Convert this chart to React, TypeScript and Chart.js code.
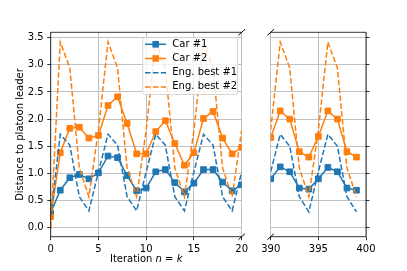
import React, { useEffect, useRef } from 'react';
import { Chart, registerables } from 'chart.js';

Chart.register(...registerables);

// ---------- data ----------
const leftIter = [0, 1, 2, 3, 4, 5, 6, 7, 8, 9, 10, 11, 12, 13, 14, 15, 16, 17, 18, 19, 20];
const rightIter = [390, 391, 392, 393, 394, 395, 396, 397, 398, 399];

const car1Left = [0.27, 0.69, 0.92, 0.98, 0.9, 1.01, 1.32, 1.29, 0.96, 0.68, 0.73, 1.03, 1.07, 0.83, 0.66, 0.82, 1.07, 1.07, 0.84, 0.68, 0.79];
const car2Left = [0.2, 1.38, 1.83, 1.85, 1.65, 1.7, 2.25, 2.41, 1.92, 1.36, 1.36, 1.77, 1.97, 1.55, 1.15, 1.38, 2.01, 2.14, 1.65, 1.36, 1.48];
const eng1Left = [0.2, 1.72, 1.52, 0.57, 0.31, 1.03, 1.72, 1.52, 0.57, 0.31, 1.03, 1.72, 1.52, 0.57, 0.31, 1.03, 1.72, 1.52, 0.57, 0.31, 1.03];
const eng2Left = [0.0, 3.42, 2.94, 1.1, 0.57, 1.8, 3.42, 2.94, 1.1, 0.57, 1.8, 3.42, 2.94, 1.1, 0.57, 1.8, 3.42, 2.94, 1.1, 0.57, 1.8];

const car1Right = [0.9, 1.12, 1.03, 0.73, 0.71, 0.9, 1.11, 1.03, 0.73, 0.69];
const car2Right = [1.66, 2.15, 2.0, 1.4, 1.3, 1.68, 2.15, 2.0, 1.4, 1.3];
const eng1Right = [1.03, 1.72, 1.5, 0.57, 0.29, 1.03, 1.72, 1.5, 0.57, 0.29];
const eng2Right = [1.8, 3.42, 2.94, 1.1, 0.57, 1.8, 3.42, 2.94, 1.1, 0.57];

const yTicks = [0, 0.5, 1, 1.5, 2, 2.5, 3, 3.5];
const leftXTicks = [0, 5, 10, 15, 20];
const rightXTicks = [390, 395, 400];
const seriesLabels = ['Car #1', 'Car #2', 'Eng. best #1', 'Eng. best #2'];
const yTitle = 'Distance to platoon leader';
const xTitleParts = [
  { text: 'Iteration ', italic: false },
  { text: 'n', italic: true },
  { text: ' = ', italic: false },
  { text: 'k', italic: true },
];

// ---------- style / layout ----------
const BLUE = '#1f77b4';
const ORANGE = '#ff7f0e';
const GRID = '#b0b0b0';
const FONT = '"DejaVu Sans", sans-serif';
const W = 407;
const H = 271;
const TOP = 32.3;
const BOTTOM = 236.7;
const L_LEFT = 50.7;
const L_RIGHT = 241.7;
const R_LEFT = 270.7;
const R_RIGHT = 366;
const Y_MIN = -0.166;
const Y_MAX = 3.598;
const DASH = [5.5, 2.4];

function drawBreak(ctx: CanvasRenderingContext2D, x: number, y: number) {
  ctx.beginPath();
  ctx.moveTo(x - 3.3, y + 3);
  ctx.lineTo(x + 3.3, y - 3);
  ctx.stroke();
}

const framePlugin = {
  id: 'frame',
  afterDatasetsDraw(chart: any, _args: any, opts: any) {
    const ctx: CanvasRenderingContext2D = chart.ctx;
    const a = chart.chartArea;
    const isLeft = opts.side === 'left';
    ctx.save();
    ctx.strokeStyle = '#000';
    ctx.lineWidth = 0.8;
    ctx.beginPath();
    if (isLeft) {
      ctx.moveTo(a.left, a.top);
      ctx.lineTo(a.left, a.bottom);
    } else {
      ctx.moveTo(a.right, a.top);
      ctx.lineTo(a.right, a.bottom);
    }
    ctx.moveTo(a.left, a.top);
    ctx.lineTo(a.right, a.top);
    ctx.moveTo(a.left, a.bottom);
    ctx.lineTo(a.right, a.bottom);
    ctx.stroke();
    ctx.lineWidth = 1;
    const bx = isLeft ? a.right : a.left;
    drawBreak(ctx, bx, a.top);
    drawBreak(ctx, bx, a.bottom);

    if (isLeft) {
      // legend
      const lx0 = 142.7, lx1 = 237.5, ly0 = 37.5, ly1 = 94.5;
      ctx.fillStyle = 'rgba(255,255,255,0.8)';
      ctx.strokeStyle = 'rgba(204,204,204,0.8)';
      ctx.lineWidth = 1;
      ctx.beginPath();
      (ctx as any).roundRect(lx0, ly0, lx1 - lx0, ly1 - ly0, 2);
      ctx.fill();
      ctx.stroke();
      const colors = [BLUE, ORANGE, BLUE, ORANGE];
      ctx.font = `10px ${FONT}`;
      ctx.textBaseline = 'middle';
      ctx.textAlign = 'left';
      seriesLabels.forEach((lab, i) => {
        const y = 44.3 + 14.2 * i;
        ctx.strokeStyle = colors[i];
        ctx.lineWidth = 1.5;
        ctx.setLineDash(i >= 2 ? DASH : []);
        ctx.beginPath();
        ctx.moveTo(145, y);
        ctx.lineTo(166, y);
        ctx.stroke();
        ctx.setLineDash([]);
        if (i < 2) {
          ctx.fillStyle = colors[i];
          ctx.fillRect(155.7 - 3.3, y - 3.3, 6.6, 6.6);
        }
        ctx.fillStyle = '#000';
        ctx.fillText(lab, 172.3, y);
      });
    }
    ctx.restore();
  },
  afterDraw(chart: any, _args: any, opts: any) {
    if (opts.side !== 'left') return;
    const ctx: CanvasRenderingContext2D = chart.ctx;
    ctx.save();
    ctx.fillStyle = '#000';
    // y title
    ctx.font = `10px ${FONT}`;
    ctx.translate(23, (TOP + BOTTOM) / 2);
    ctx.rotate(-Math.PI / 2);
    ctx.textAlign = 'center';
    ctx.textBaseline = 'alphabetic';
    ctx.fillText(yTitle, 0, 0);
    ctx.restore();
    // x title
    ctx.save();
    ctx.fillStyle = '#000';
    ctx.textBaseline = 'middle';
    ctx.textAlign = 'left';
    let total = 0;
    const widths = xTitleParts.map((p) => {
      ctx.font = `${p.italic ? 'italic ' : ''}10px ${FONT}`;
      const w = ctx.measureText(p.text).width;
      total += w;
      return w;
    });
    let x = (L_LEFT + L_RIGHT) / 2 - total / 2;
    xTitleParts.forEach((p, i) => {
      ctx.font = `${p.italic ? 'italic ' : ''}10px ${FONT}`;
      ctx.fillText(p.text, x, 259.5);
      x += widths[i];
    });
    ctx.restore();
  },
};

function makeConfig(side: 'left' | 'right'): any {
  const isLeft = side === 'left';
  const xs = isLeft ? leftIter : rightIter;
  const mk = (ys: number[]) => ys.map((y, i) => ({ x: xs[i], y }));
  const c1 = isLeft ? car1Left : car1Right;
  const c2 = isLeft ? car2Left : car2Right;
  const e1 = isLeft ? eng1Left : eng1Right;
  const e2 = isLeft ? eng2Left : eng2Right;
  const car = (label: string, d: number[], color: string, order: number) => ({
    label,
    data: mk(d),
    borderColor: color,
    backgroundColor: color,
    borderWidth: 1.5,
    pointStyle: 'rect',
    pointRadius: 4,
    pointBorderWidth: 1,
    pointBackgroundColor: color,
    pointBorderColor: color,
    tension: 0,
    clip: 0,
    order,
  });
  const eng = (label: string, d: number[], color: string, order: number) => ({
    label,
    data: mk(d),
    borderColor: color,
    backgroundColor: color,
    borderWidth: 1.5,
    borderDash: DASH,
    pointRadius: 0,
    tension: 0,
    clip: 0,
    order,
  });
  const tickFont = { family: FONT, size: 10 };
  const xt = isLeft ? leftXTicks : rightXTicks;
  return {
    type: 'line',
    data: {
      datasets: [
        car(seriesLabels[0], c1, BLUE, 4),
        car(seriesLabels[1], c2, ORANGE, 3),
        eng(seriesLabels[2], e1, BLUE, 2),
        eng(seriesLabels[3], e2, ORANGE, 1),
      ],
    },
    options: {
      responsive: false,
      animation: false,
      devicePixelRatio: 1,
      events: [],
      layout: {
        padding: isLeft
          ? { top: TOP, left: 0, right: W - L_RIGHT, bottom: 0 }
          : { top: TOP, left: R_LEFT, right: 0, bottom: 0 },
      },
      plugins: {
        legend: { display: false },
        tooltip: { enabled: false },
        frame: { side },
      },
      scales: {
        x: {
          type: 'linear',
          position: 'bottom',
          min: xt[0],
          max: xt[xt.length - 1],
          afterBuildTicks: (s: any) => {
            s.ticks = xt.map((v) => ({ value: v }));
          },
          afterFit: (s: any) => {
            s.height = H - BOTTOM;
          },
          grid: { color: GRID, lineWidth: 0.8, tickColor: '#000', tickLength: 3.5, tickWidth: 0.8 },
          border: { display: false },
          ticks: {
            color: '#000',
            font: tickFont,
            padding: 3,
            maxRotation: 0,
            autoSkip: false,
            callback: (v: number) => String(v),
          },
        },
        y: {
          type: 'linear',
          position: isLeft ? 'left' : 'right',
          min: Y_MIN,
          max: Y_MAX,
          afterBuildTicks: (s: any) => {
            s.ticks = yTicks.map((v) => ({ value: v }));
          },
          afterFit: (s: any) => {
            s.width = isLeft ? L_LEFT : W - R_RIGHT;
          },
          grid: { color: GRID, lineWidth: 0.8, tickColor: '#000', tickLength: 3.5, tickWidth: 0.8 },
          border: { display: false },
          ticks: {
            display: isLeft,
            color: '#000',
            font: tickFont,
            padding: 3.5,
            callback: (v: number) => v.toFixed(1),
          },
        },
      },
    },
    plugins: [framePlugin],
  };
}

export default function App() {
  const leftRef = useRef<HTMLCanvasElement | null>(null);
  const rightRef = useRef<HTMLCanvasElement | null>(null);
  useEffect(() => {
    const c1 = new Chart(leftRef.current as HTMLCanvasElement, makeConfig('left'));
    const c2 = new Chart(rightRef.current as HTMLCanvasElement, makeConfig('right'));
    return () => {
      c1.destroy();
      c2.destroy();
    };
  }, []);
  const cs: React.CSSProperties = { position: 'absolute', left: 0, top: 0, width: W, height: H };
  return (
    <div style={{ position: 'absolute', left: 0, top: 0, width: W, height: H, background: '#fff' }}>
      <canvas ref={leftRef} width={W} height={H} style={cs} />
      <canvas ref={rightRef} width={W} height={H} style={cs} />
    </div>
  );
}
